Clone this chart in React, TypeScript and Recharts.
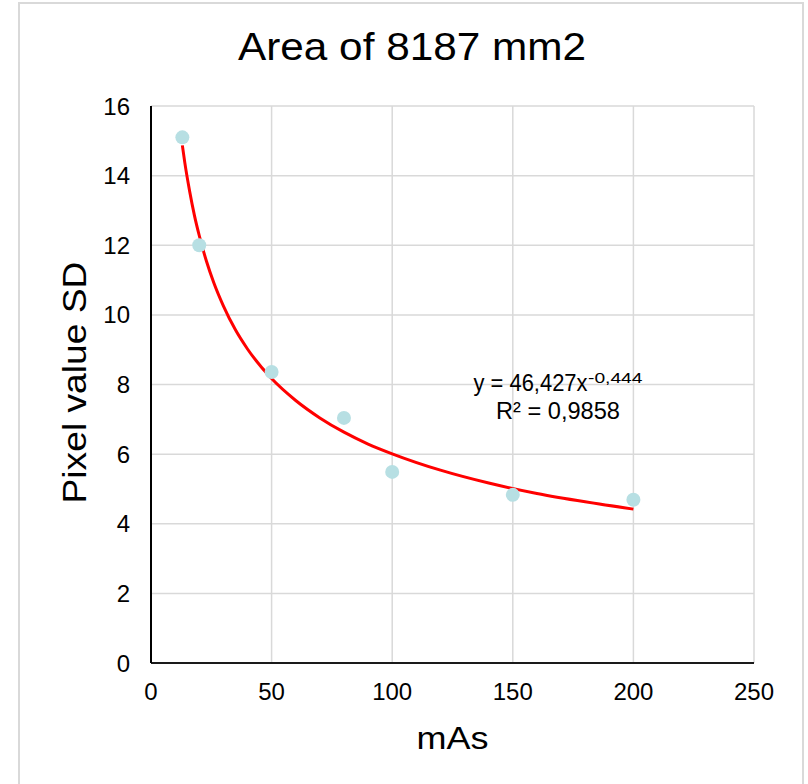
import React from 'react';
import { ComposedChart, Scatter, Line, XAxis, YAxis, CartesianGrid, Customized } from 'recharts';

const TITLE = 'Area of 8187 mm2';
const X_LABEL = 'mAs';
const Y_LABEL = 'Pixel value SD';
const EQ_MAIN = 'y = 46,427x';
const EQ_EXP = '-0,444';
const R2_TEXT = 'R² = 0,9858';

const mAs = [13, 20, 50, 80, 100, 150, 200];
const pixelSD = [15.1, 12.0, 8.36, 7.04, 5.49, 4.83, 4.69];

const trendX = [13, 14, 16, 18, 20, 23, 26, 30, 35, 40, 50, 60, 70, 80, 90, 100, 120, 140, 160, 180, 200];
const trendY = [14.87, 14.38, 13.56, 12.86, 12.28, 11.54, 10.93, 10.26, 9.57, 9.02, 8.17, 7.54, 7.04, 6.63, 6.29, 6.01, 5.54, 5.17, 4.87, 4.63, 4.42];

const xTicks = [0, 50, 100, 150, 200, 250];
const yTicks = [0, 2, 4, 6, 8, 10, 12, 14, 16];

const points = mAs.map((x, i) => ({ x, y: pixelSD[i] }));
const trend = trendX.map((x, i) => ({ x, y: trendY[i] }));

const FONT = '"Liberation Sans", Arial, sans-serif';

const Dot = (props: any) => {
  const { cx, cy } = props;
  if (cx == null || cy == null) return null;
  return <circle cx={cx} cy={cy} r={7} fill="#b7dfe3" />;
};

const Texts = () => (
  <g fontFamily={FONT} fill="#000">
    <text x={412} y={60} fontSize={39} textAnchor="middle" textLength={348} lengthAdjust="spacingAndGlyphs">{TITLE}</text>
    <text x={452.5} y={749} fontSize={32} textAnchor="middle" textLength={72} lengthAdjust="spacingAndGlyphs">{X_LABEL}</text>
    <text transform="translate(86,382.5) rotate(-90)" x={0} y={0} fontSize={34} textAnchor="middle" textLength={242} lengthAdjust="spacingAndGlyphs">{Y_LABEL}</text>
    <text x={473.5} y={391} fontSize={23}>
      <tspan textLength={114} lengthAdjust="spacingAndGlyphs">{EQ_MAIN}</tspan>
      <tspan x={588} y={383} fontSize={15} textLength={54.5} lengthAdjust="spacingAndGlyphs">{EQ_EXP}</tspan>
    </text>
    <text x={496} y={419} fontSize={24} textLength={124} lengthAdjust="spacingAndGlyphs">{R2_TEXT}</text>
  </g>
);

export default function App() {
  return (
    <div style={{ position: 'absolute', left: 0, top: 0, width: 808, height: 784, background: '#fff', overflow: 'hidden' }}>
      <div style={{ position: 'absolute', left: 18, top: 2, width: 786, height: 800, border: '2px solid #d9d9d9', boxSizing: 'border-box' }} />
      <div style={{ position: 'absolute', left: 0, top: 0 }}>
        <ComposedChart width={808} height={784} margin={{ top: 106, right: 54, bottom: 0, left: 0 }}>
          <CartesianGrid stroke="#d9d9d9" strokeWidth={1.5} horizontalValues={yTicks} verticalValues={xTicks} />
          <XAxis
            type="number"
            dataKey="x"
            domain={[0, 250]}
            ticks={xTicks}
            height={121}
            tickLine={false}
            tickSize={0}
            tickMargin={20}
            axisLine={{ stroke: '#1a1a1a', strokeWidth: 2 }}
            tick={{ fill: '#000', fontSize: 24, fontFamily: FONT }}
            interval={0}
            allowDecimals={false}
          />
          <YAxis
            type="number"
            dataKey="y"
            domain={[0, 16]}
            ticks={yTicks}
            width={151}
            tickLine={false}
            tickSize={0}
            tickMargin={21}
            axisLine={{ stroke: '#000', strokeWidth: 2 }}
            tick={{ fill: '#000', fontSize: 24, fontFamily: FONT }}
            interval={0}
          />
          <Scatter data={points} dataKey="y" shape={Dot} isAnimationActive={false} />
          <Line data={trend} dataKey="y" type="monotone" stroke="#ff0000" strokeWidth={3} dot={false} activeDot={false} isAnimationActive={false} />
          <Customized component={Texts} />
        </ComposedChart>
      </div>
    </div>
  );
}
